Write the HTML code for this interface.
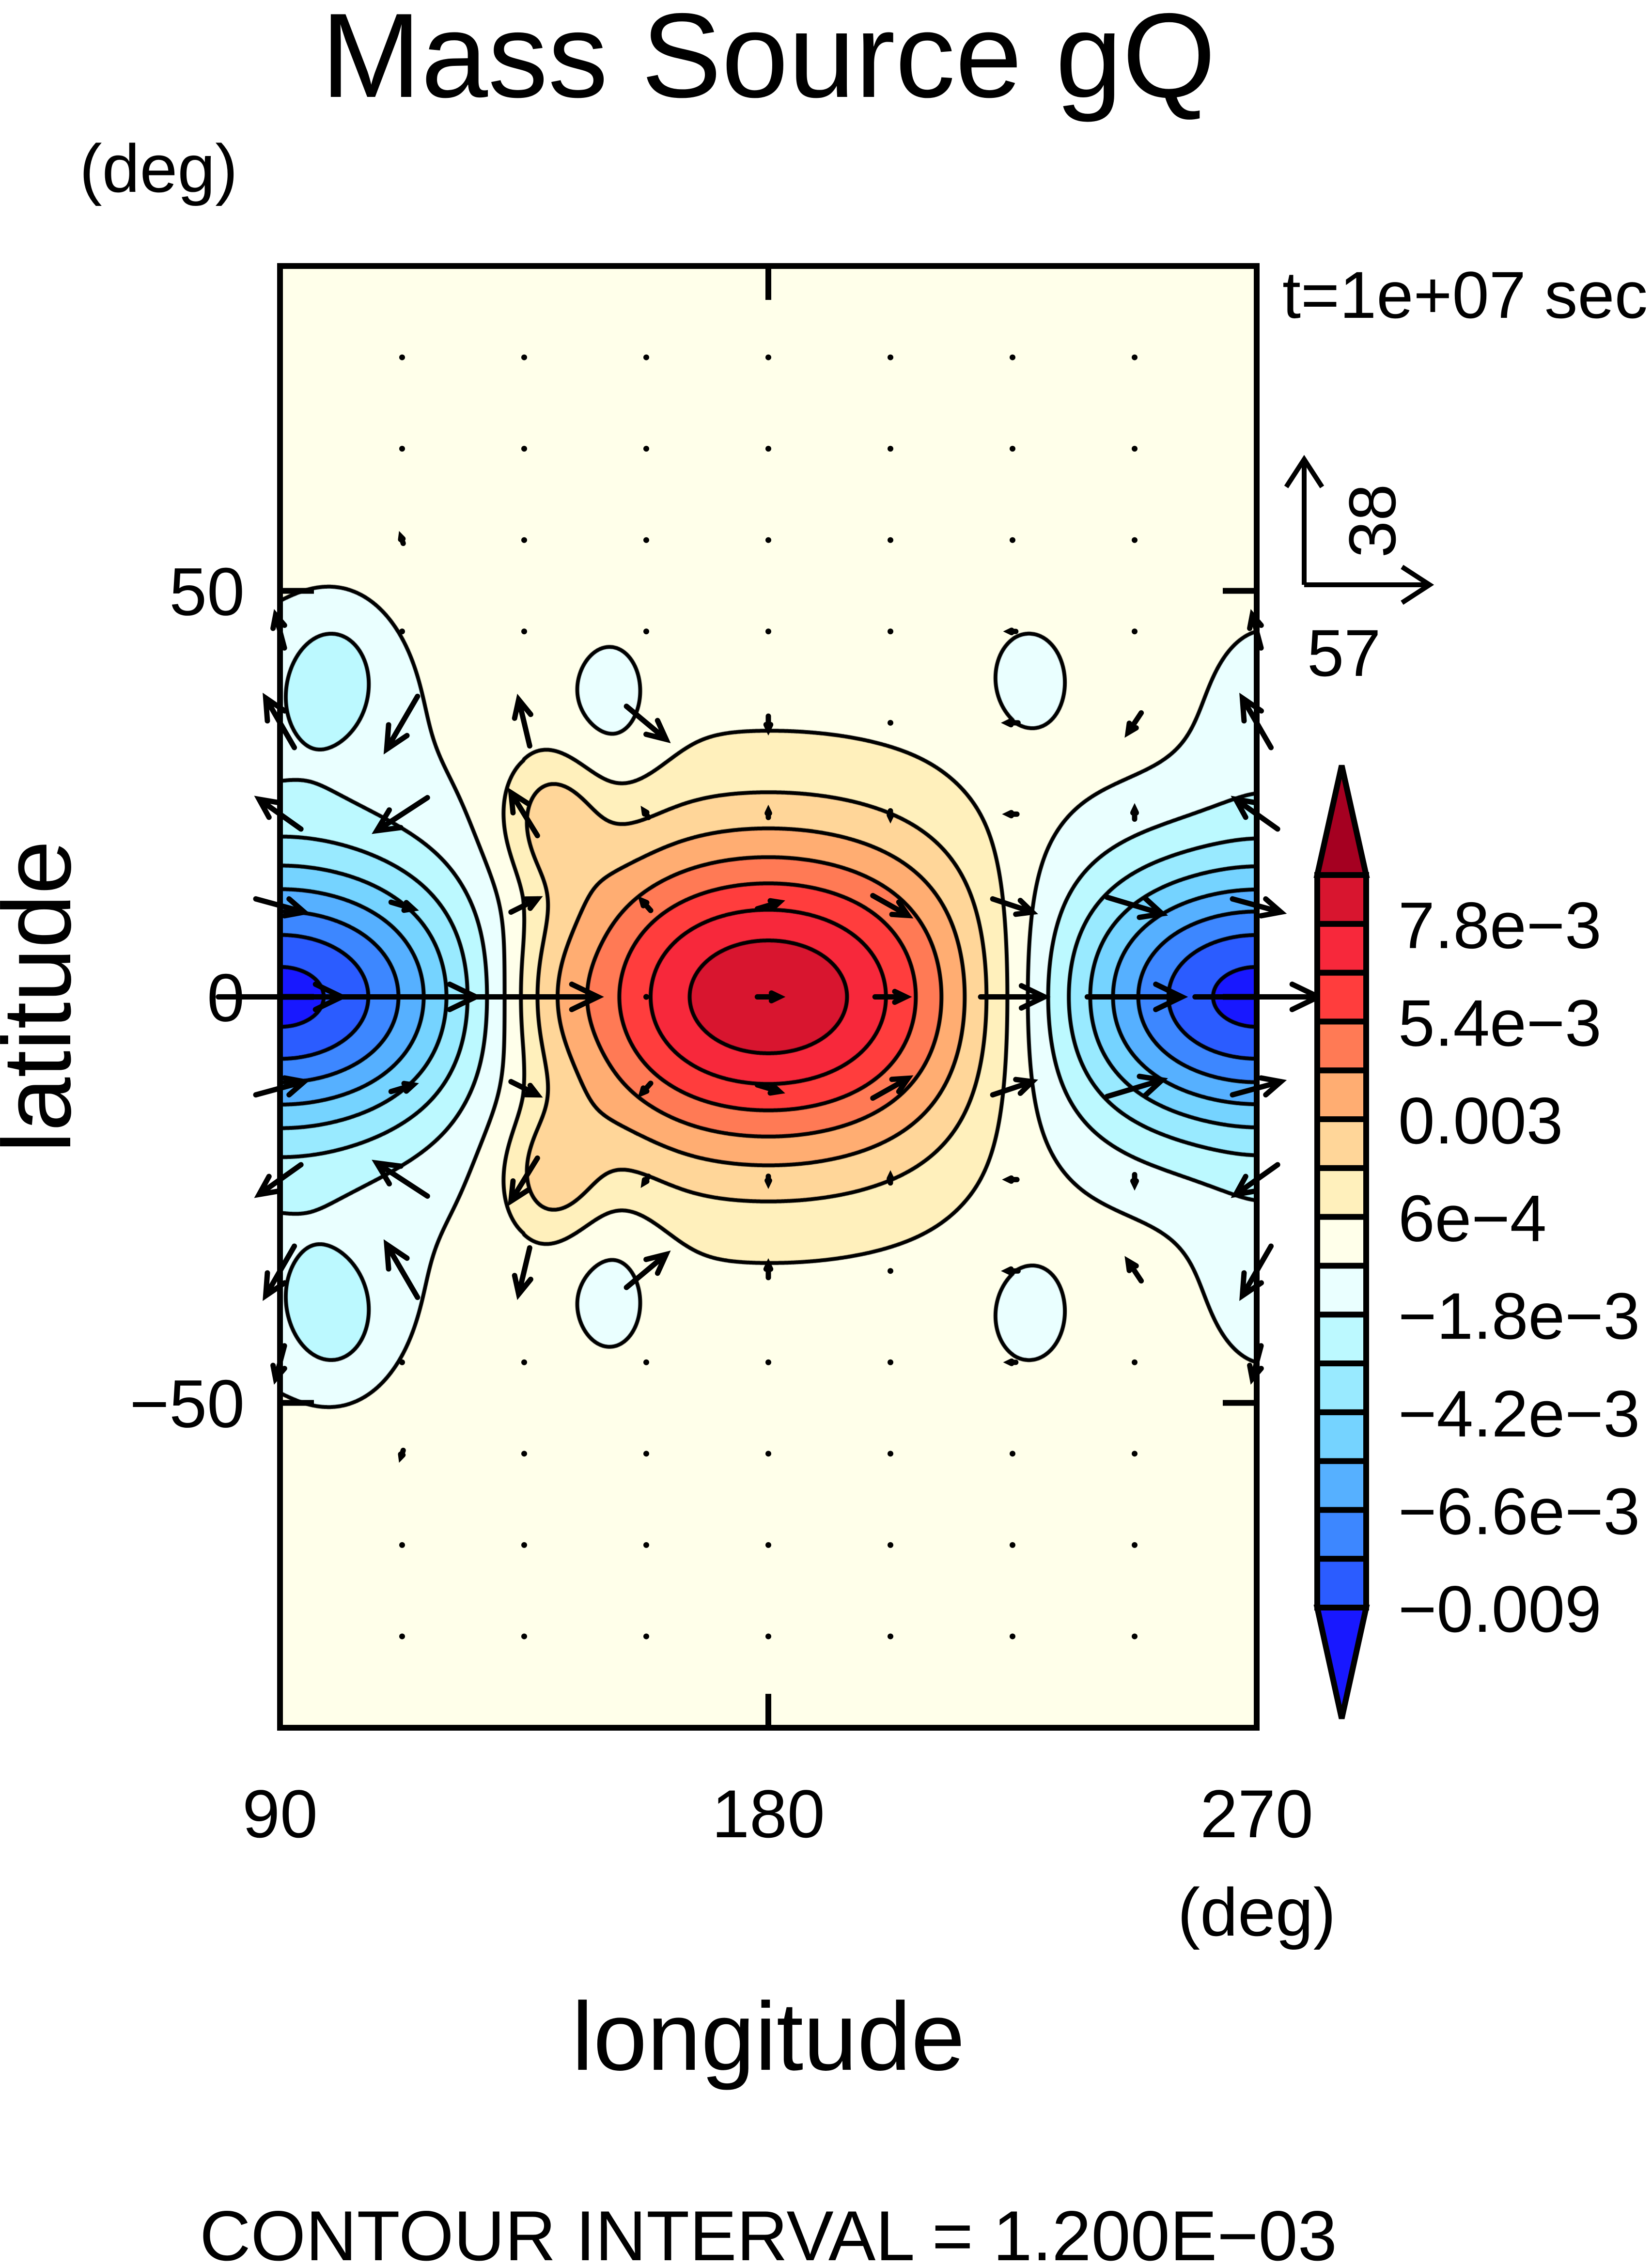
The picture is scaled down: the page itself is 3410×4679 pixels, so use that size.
<!DOCTYPE html>
<html><head><meta charset="utf-8"><style>
html,body{margin:0;padding:0;background:#fff;}
#wrap{position:relative;width:3410px;height:4679px;overflow:hidden;background:#fff;}
#fieldCanvas{position:absolute;left:578px;top:549px;}
#overlay{position:absolute;left:0;top:0;}
text{font-family:"Liberation Sans",Arial,sans-serif;fill:#000;}
</style></head><body>
<div id="wrap">
<canvas id="fieldCanvas" width="2016" height="3017"></canvas>
<svg id="overlay" width="3410" height="4679" xmlns="http://www.w3.org/2000/svg">
  <text x="1586" y="200" font-size="248" text-anchor="middle">Mass Source gQ</text>
  <text x="164" y="396" font-size="140">(deg)</text>
  <text x="2647" y="656" font-size="137">t=1e+07 sec</text>
  <g id="vectors"></g>
  <rect x="578" y="549" width="2016" height="3017" fill="none" stroke="#000" stroke-width="12"/>
  <g id="ticks"></g>
  <g id="ylabels"></g>
  <g id="xlabels"></g>
  <text x="2594" y="3995" font-size="140" text-anchor="middle">(deg)</text>
  <text x="1586" y="4272" font-size="200" text-anchor="middle">longitude</text>
  <text transform="translate(145,2057) rotate(-90)" x="0" y="0" font-size="200" text-anchor="middle">latitude</text>
  <text x="1586" y="4665" font-size="146" text-anchor="middle">CONTOUR INTERVAL = 1.200E−03</text>
  <g>
    <path d="M2692,1207 L2692,948 M2655,1005 L2692,948 L2729,1005 M2692,1207 L2951,1207 M2894,1170 L2951,1207 L2894,1244" fill="none" stroke="#000" stroke-width="10"/>
    <text transform="translate(2880,1075) rotate(-90)" font-size="137" text-anchor="middle">38</text>
    <text x="2698" y="1395" font-size="137">57</text>
  </g>
  <g id="colorbar"></g>
</svg>
</div>
<script>
// ---- field model data (contour field components) ----
const waveA = 0.0091;
const waveB = -0.0003;
const waveLatWidthPos = 20;
const waveLatWidthNeg = 17.5;
const blobLon = [90, 90, 100, 100, 151, 151, 228, 228, 272, 272, 140, 140, 140];
const blobLat = [35, -35, 40, -40, 35, -35, 39, -39, 35, -35, 22, -22, 0];
const blobAmp = [-0.0012, -0.0012, -0.0016, -0.0016, -0.0011, -0.0011, -0.0010, -0.0010, -0.0010, -0.0010, 0.0022, 0.0022, 0.0008];
const blobWLon = [28, 28, 9, 9, 10, 10, 9, 9, 14, 14, 9, 9, 8];
const blobWLat = [14, 14, 8, 8, 11, 11, 8, 8, 14, 14, 8, 8, 10];
// contour levels and colours
const levels = [-0.009,-0.0078,-0.0066,-0.0054,-0.0042,-0.003,-0.0018,-0.0006,0.0006,0.0018,0.003,0.0042,0.0054,0.0066,0.0078,0.009];
const binColors = ["#1818ff","#2b5cff","#3d87ff","#56b0ff","#75d3ff","#99eaff","#bcf9ff","#eaffff","#ffffea","#fff0bc","#ffd699","#ffad72","#ff7a55","#ff3d3d","#f7283b","#d8152f","#a50021"];
const cbLabels = ["7.8e−3","5.4e−3","0.003","6e−4","−1.8e−3","−4.2e−3","−6.6e−3","−0.009"];
const cbLabelLevelIdx = [14,12,10,8,6,4,2,0];
// vectors
const gridLon = [90,112.5,135,157.5,180,202.5,225,247.5,270];
const gridLat = [78.75,67.5,56.25,45,33.75,22.5,11.25,0,-11.25,-22.5,-33.75,-45,-56.25,-67.5,-78.75];
const uRows = [
 [0,0,0,0,0,0,0,0,0],
 [0,0,0,0,0,0,0,0,0],
 [0,-1,0,0,0,0,0,0,0],
 [-4,0,0,0,0,0,-3,0,-4],
 [-13,-14,-5,18,0,0,-5,-6,-13],
 [-19,-23,-12,-2,0,0,-4,0,-19],
 [22,10,12,-4,10,16,18,25,22],
 [56,67,67,1,10,14,29,43,56],
 [22,10,12,-4,10,16,18,25,22],
 [-19,-23,-12,-2,0,0,-4,0,-19],
 [-13,-14,-5,18,0,0,-5,-6,-13],
 [-4,0,0,0,0,0,-3,0,-4],
 [0,-1,0,0,0,0,0,0,0],
 [0,0,0,0,0,0,0,0,0],
 [0,0,0,0,0,0,0,0,0]];
const vRows = [
 [0,0,0,0,0,0,0,0,0],
 [0,0,0,0,0,0,0,0,0],
 [0,2,0,0,0,0,0,0,0],
 [10,0,1,1,0,0,0,0,10],
 [15,-16,14,-10,-4,0,0,-6,15],
 [9,-10,13,2,2,-2,0,3,9],
 [-4,-2,4,3,2,-6,-4,-5,-4],
 [0,0,0,0,0,0,0,0,0],
 [4,2,-4,-3,-2,6,4,5,4],
 [-9,10,-13,-2,-2,2,0,-3,-9],
 [-15,16,-14,10,4,0,0,6,-15],
 [-10,0,-1,-1,0,0,0,0,-10],
 [0,-2,0,0,0,0,0,0,0],
 [0,0,0,0,0,0,0,0,0],
 [0,0,0,0,0,0,0,0,0]];
const xTicks = [90,180,270];
const yTicks = [50,0,-50];
const yTickText = ["50","0","−50"];
const refU = 57, refV = 38;

// ---- axes ----
const PL=578, PT=549, PW=2016, PH=3017;
function xOf(lon){return PL+(lon-90)/180*PW;}
function yOf(lat){return PT+(90-lat)/180*PH;}
const NS="http://www.w3.org/2000/svg";
function field(lon,lat){
  const d=(lon-180)*Math.PI/180;
  const c2=Math.cos(2*d);
  const L=c2>0?waveLatWidthPos:waveLatWidthNeg;
  const pl=Math.exp(-(lat/L)*(lat/L));
  let v=pl*(waveA*c2+waveB*Math.cos(4*d));
  for(let i=0;i<blobLon.length;i++){
    const a=(lon-blobLon[i])/blobWLon[i], b=(lat-blobLat[i])/blobWLat[i];
    v+=blobAmp[i]*Math.exp(-a*a-b*b);
  }
  return v;
}
function binOf(v){let k=0;while(k<levels.length&&v>=levels[k])k++;return k;}
function hexRGB(h){return [parseInt(h.slice(1,3),16),parseInt(h.slice(3,5),16),parseInt(h.slice(5,7),16)];}
const rgb=binColors.map(hexRGB);
// fill
const cv=document.getElementById('fieldCanvas');const ctx=cv.getContext('2d');
const step=2, nx=Math.ceil(PW/step)+1, ny=Math.ceil(PH/step)+1;
const G=new Float32Array(nx*ny);
for(let j=0;j<ny;j++){const lat=90-(j*step)/PH*180;for(let i=0;i<nx;i++){const lon=90+(i*step)/PW*180;G[j*nx+i]=field(lon,lat);}}
const img=ctx.createImageData(PW,PH);const D=img.data;
for(let y=0;y<PH;y++){const j=Math.round(y/step);for(let x=0;x<PW;x++){const i=Math.round(x/step);const c=rgb[binOf(G[j*nx+i])];const p=(y*PW+x)*4;D[p]=c[0];D[p+1]=c[1];D[p+2]=c[2];D[p+3]=255;}}
ctx.putImageData(img,0,0);
// contour lines (marching squares)
ctx.strokeStyle='#000';ctx.lineWidth=8;ctx.lineCap='round';
for(const L of levels){
  ctx.beginPath();
  for(let j=0;j<ny-1;j++)for(let i=0;i<nx-1;i++){
    const a=G[j*nx+i],b=G[j*nx+i+1],c=G[(j+1)*nx+i+1],d=G[(j+1)*nx+i];
    const pts=[];
    const x0=i*step,y0=j*step;
    if((a<L)!==(b<L))pts.push([x0+step*(L-a)/(b-a),y0]);
    if((b<L)!==(c<L))pts.push([x0+step,y0+step*(L-b)/(c-b)]);
    if((d<L)!==(c<L))pts.push([x0+step*(L-d)/(c-d),y0+step]);
    if((a<L)!==(d<L))pts.push([x0,y0+step*(L-a)/(d-a)]);
    if(pts.length>=2){ctx.moveTo(pts[0][0],pts[0][1]);ctx.lineTo(pts[1][0],pts[1][1]);}
    if(pts.length===4){ctx.moveTo(pts[2][0],pts[2][1]);ctx.lineTo(pts[3][0],pts[3][1]);}
  }
  ctx.stroke();
}
// vectors
const vg=document.getElementById('vectors');
const sx=259/refU, sy=259/refV;
for(let r=0;r<gridLat.length;r++)for(let c=0;c<gridLon.length;c++){
  const cx=xOf(gridLon[c]), cy=yOf(gridLat[r]);
  const dx=uRows[r][c]*sx, dy=-vRows[r][c]*sy;
  const len=Math.hypot(dx,dy);
  if(len<8){
    const dot=document.createElementNS(NS,'circle');
    dot.setAttribute('cx',cx);dot.setAttribute('cy',cy);dot.setAttribute('r',6);dot.setAttribute('fill','#000');
    
    
    vg.appendChild(dot);continue;
  }
  const x1=cx-dx/2,y1=cy-dy/2,x2=cx+dx/2,y2=cy+dy/2;
  const h=Math.min(0.4*len,60), ang=Math.atan2(dy,dx), w=0.45;
  const hx1=x2-h*Math.cos(ang-w),hy1=y2-h*Math.sin(ang-w),hx2=x2-h*Math.cos(ang+w),hy2=y2-h*Math.sin(ang+w);
  const p=document.createElementNS(NS,'path');
  p.setAttribute('d',`M${x1},${y1}L${x2},${y2}M${hx1},${hy1}L${x2},${y2}L${hx2},${hy2}`);
  p.setAttribute('stroke','#000');p.setAttribute('stroke-width','11');p.setAttribute('fill','none');p.setAttribute('stroke-linecap','round');
  
  
  vg.appendChild(p);
}
// ticks and labels
const tg=document.getElementById('ticks');
let td='';
for(const t of xTicks){const x=xOf(t);td+=`M${x},${PT}L${x},${PT+70}M${x},${PT+PH}L${x},${PT+PH-70}`;}
for(const t of yTicks){const y=yOf(t);td+=`M${PL},${y}L${PL+70},${y}M${PL+PW},${y}L${PL+PW-70},${y}`;}
const tp=document.createElementNS(NS,'path');tp.setAttribute('d',td);tp.setAttribute('stroke','#000');tp.setAttribute('stroke-width','12');


tg.appendChild(tp);
const yl=document.getElementById('ylabels');
yTicks.forEach((t,i)=>{const e=document.createElementNS(NS,'text');e.setAttribute('x',505);e.setAttribute('y',yOf(t)+50);e.setAttribute('font-size','140');e.setAttribute('text-anchor','end');e.textContent=yTickText[i];


yl.appendChild(e);});
const xl=document.getElementById('xlabels');
xTicks.forEach(t=>{const e=document.createElementNS(NS,'text');e.setAttribute('x',xOf(t));e.setAttribute('y',3792);e.setAttribute('font-size','140');e.setAttribute('text-anchor','middle');e.textContent=String(t);


xl.appendChild(e);});
// colorbar
const cb=document.getElementById('colorbar');
const CX0=2719,CX1=2820,CTop=1806,CBot=3318,ApT=1580,ApB=3547;
const nb=levels.length-1;const bh=(CBot-CTop)/nb;
function lvlY(k){return CBot-k*bh;}
for(let k=0;k<nb;k++){
  const r=document.createElementNS(NS,'rect');
  r.setAttribute('x',CX0);r.setAttribute('y',lvlY(k+1));r.setAttribute('width',CX1-CX0);r.setAttribute('height',bh);
  r.setAttribute('fill',binColors[k+1]);r.setAttribute('stroke','#000');r.setAttribute('stroke-width','12');
  
  
  cb.appendChild(r);
}
const tri1=document.createElementNS(NS,'path');
tri1.setAttribute('d',`M${CX0},${CTop}L${(CX0+CX1)/2},${ApT}L${CX1},${CTop}Z`);tri1.setAttribute('fill',binColors[16]);tri1.setAttribute('stroke','#000');tri1.setAttribute('stroke-width','12');


cb.appendChild(tri1);
const tri2=document.createElementNS(NS,'path');
tri2.setAttribute('d',`M${CX0},${CBot}L${(CX0+CX1)/2},${ApB}L${CX1},${CBot}Z`);tri2.setAttribute('fill',binColors[0]);tri2.setAttribute('stroke','#000');tri2.setAttribute('stroke-width','12');


cb.appendChild(tri2);
cbLabels.forEach((s,i)=>{const e=document.createElementNS(NS,'text');e.setAttribute('x',2886);e.setAttribute('y',lvlY(cbLabelLevelIdx[i])+50);e.setAttribute('font-size','136');e.textContent=s;


cb.appendChild(e);});
</script>
</body></html>
